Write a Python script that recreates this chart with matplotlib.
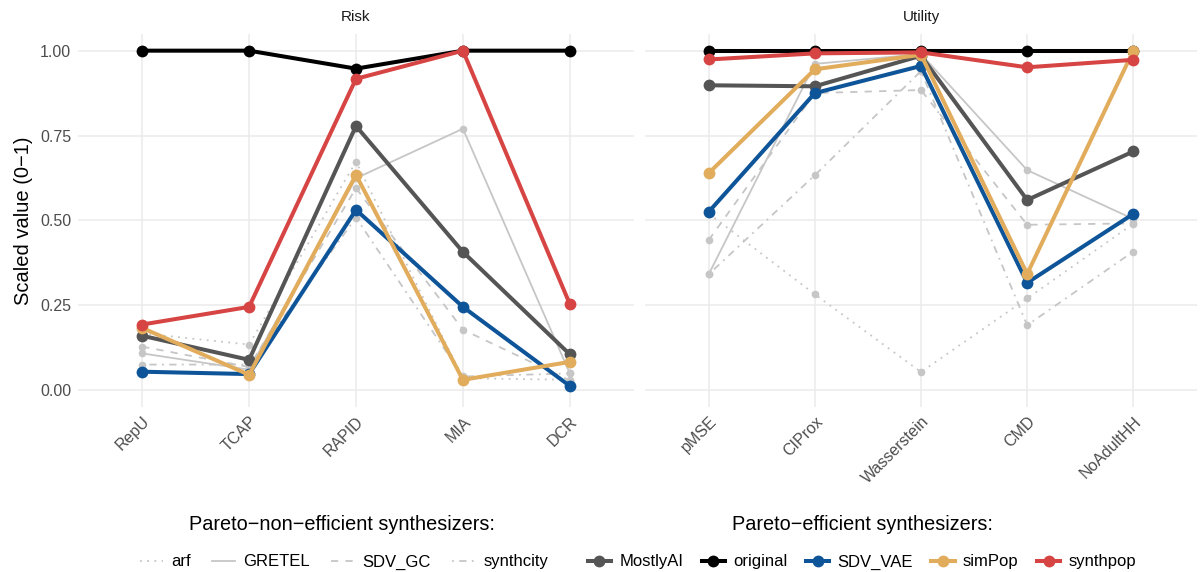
import matplotlib
matplotlib.use("Agg")
import matplotlib.pyplot as plt
from matplotlib.lines import Line2D
import numpy as np

plt.rcParams['font.family'] = ['Liberation Sans', 'DejaVu Sans']

risk_metrics = ["RepU", "TCAP", "RAPID", "MIA", "DCR"]
utility_metrics = ["pMSE", "CIProx", "Wasserstein", "CMD", "NoAdultHH"]

# Pareto-non-efficient synthesizers (grey)
grey_names = ["arf", "GRETEL", "SDV_GC", "synthcity"]
risk_arf = [0.167, 0.134, 0.673, 0.035, 0.030]
risk_gretel = [0.108, 0.060, 0.624, 0.770, 0.049]
risk_sdv_gc = [0.128, 0.068, 0.595, 0.178, 0.028]
risk_synthcity = [0.075, 0.075, 0.508, 0.040, 0.049]
util_arf = [0.520, 0.282, 0.053, 0.270, 0.490]
util_gretel = [0.341, 0.961, 0.990, 0.648, 0.504]
util_sdv_gc = [0.442, 0.875, 0.884, 0.487, 0.491]
util_synthcity = [0.341, 0.633, 0.940, 0.191, 0.408]

# Pareto-efficient synthesizers
main_names = ["MostlyAI", "original", "SDV_VAE", "simPop", "synthpop"]
risk_mostlyai = [0.160, 0.089, 0.778, 0.407, 0.105]
risk_original = [1.0, 1.0, 0.947, 1.0, 1.0]
risk_sdv_vae = [0.054, 0.047, 0.531, 0.245, 0.012]
risk_simpop = [0.183, 0.045, 0.634, 0.030, 0.083]
risk_synthpop = [0.193, 0.245, 0.917, 1.0, 0.253]
util_mostlyai = [0.898, 0.895, 0.985, 0.560, 0.703]
util_original = [1.0, 1.0, 1.0, 1.0, 1.0]
util_sdv_vae = [0.525, 0.875, 0.955, 0.316, 0.519]
util_simpop = [0.639, 0.945, 0.988, 0.342, 1.0]
util_synthpop = [0.974, 0.992, 0.995, 0.951, 0.973]

grey_styles = [(0, (1, 3)), "solid", (0, (4, 4)), (0, (1, 3, 4, 3))]
main_colors = ["#555555", "#000000", "#0E5498", "#E2AC5D", "#D64543"]
grey_col = "#C6C6C6"

risk_grey = [risk_arf, risk_gretel, risk_sdv_gc, risk_synthcity]
util_grey = [util_arf, util_gretel, util_sdv_gc, util_synthcity]
risk_main = [risk_mostlyai, risk_original, risk_sdv_vae, risk_simpop, risk_synthpop]
util_main = [util_mostlyai, util_original, util_sdv_vae, util_simpop, util_synthpop]

W, H = 1201, 572
fig = plt.figure(figsize=(W / 100, H / 100), dpi=100)


def px_axes(x0, x1, top, bottom):
    return fig.add_axes([x0 / W, (H - bottom) / H, (x1 - x0) / W, (bottom - top) / H])


def panel(ax, metrics, grey_vals, main_vals, title, show_y):
    x = np.arange(len(metrics))
    for vals, ls in zip(grey_vals, grey_styles):
        ax.plot(x, vals, color=grey_col, lw=1.3, ls=ls, marker="o", ms=5.5,
                markeredgewidth=0, zorder=2)
    for vals, c in zip(main_vals, main_colors):
        ax.plot(x, vals, color=c, lw=2.9, marker="o", ms=8.5,
                markeredgewidth=0, zorder=3)
    ax.set_xlim(-0.6, len(metrics) - 0.4)
    ax.set_ylim(-0.05, 1.05)
    ax.set_xticks(x)
    ax.set_xticklabels(metrics, rotation=45, ha="right", va="top",
                       rotation_mode="anchor", color="#4D4D4D", fontsize=11.5)
    ax.set_yticks([0, 0.25, 0.5, 0.75, 1.0])
    if show_y:
        ax.set_yticklabels(["0.00", "0.25", "0.50", "0.75", "1.00"],
                           color="#4D4D4D", fontsize=11.5)
    else:
        ax.set_yticklabels([])
    ax.tick_params(length=0, pad=5)
    ax.grid(True, color="#EBEBEB", lw=1.1)
    ax.set_axisbelow(True)
    for s in ax.spines.values():
        s.set_visible(False)
    ax.set_title(title, fontsize=11, color="#1A1A1A", pad=9)


ax1 = px_axes(78, 634, 33.7, 407)
ax2 = px_axes(645, 1197, 33.7, 407)
panel(ax1, risk_metrics, risk_grey, risk_main, "Risk", True)
panel(ax2, utility_metrics, util_grey, util_main, "Utility", False)
ax1.set_ylabel("Scaled value (0\u22121)", fontsize=14.5, labelpad=5)

# legends
fig.text(342 / W, 1 - 525 / H, "Pareto\u2212non\u2212efficient synthesizers:",
         ha="center", va="center", fontsize=14.3)
fig.text(862 / W, 1 - 525 / H, "Pareto\u2212efficient synthesizers:",
         ha="center", va="center", fontsize=14.3)

h1 = [Line2D([], [], color=grey_col, lw=1.3, ls=ls) for ls in grey_styles]
fig.legend(h1, grey_names, loc="center", bbox_to_anchor=(344 / W, 1 - 562 / H),
           ncol=4, frameon=False, fontsize=12, handlelength=1.4,
           handletextpad=0.5, columnspacing=1.25)
h2 = [Line2D([], [], color=c, lw=2.9, marker="o", ms=8.5, markeredgewidth=0)
      for c in main_colors]
fig.legend(h2, main_names, loc="center", bbox_to_anchor=(862 / W, 1 - 562 / H),
           ncol=5, frameon=False, fontsize=12, handlelength=1.4,
           handletextpad=0.5, columnspacing=1.1)

fig.savefig("out.png", dpi=100)
